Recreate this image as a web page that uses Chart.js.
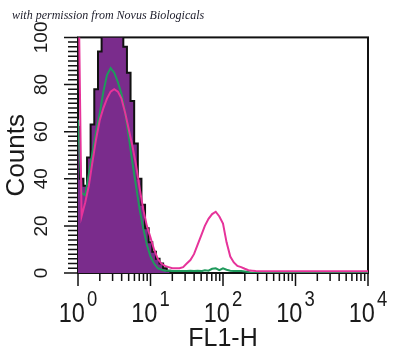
<!DOCTYPE html>
<html>
<head>
<meta charset="utf-8">
<script src="https://cdn.jsdelivr.net/npm/chart.js@4.4.1/dist/chart.umd.min.js"></script>
<style>
  html, body { margin: 0; padding: 0; background: #fff; }
</style>
</head>
<body>
<canvas id="histChart" width="400" height="356"></canvas>
<script>
const SANS = "'Liberation Sans', Arial, sans-serif";

const caption = "with permission from Novus Biologicals";

// FL1 channel positions (log scale) and the three overlaid histograms
const fl1 = [
  1.0, 1.12, 1.26, 1.41, 1.58, 1.78, 2.0, 2.24, 2.51, 2.82,
  3.16, 3.55, 3.98, 4.47, 5.01, 5.62, 6.31, 7.08, 7.94, 8.91,
  10, 11.2, 12.6, 14.1, 15.8, 17.8, 20, 22.4, 25.1, 28.2,
  31.6, 35.5, 39.8, 44.7, 50.1, 56.2, 63.1, 70.8, 79.4, 89.1,
  100, 112, 126, 141, 158, 178, 200, 224, 251, 282,
  316, 398, 631, 1000, 1585, 2512, 3981, 6310, 10000,
];
const purpleCounts = [
  62, 40, 37, 49, 63, 78, 94, 104, 110, 112,
  112, 110, 106, 96, 85, 73, 55, 40, 29, 19,
  13, 9, 6, 4, 2, 1, 0, 0, 0, 0,
  0, 0, 0, 0, 0, 0, 0, 0, 0, 0,
  0, 0, 0, 0, 0, 0, 0, 0, 0, 0,
  0, 0, 0, 0, 0, 0, 0, 0, 0,
];
const greenCounts = [
  65, 34, 33, 42, 51, 60, 68, 77, 84, 87,
  85, 81, 76, 68, 58, 47, 37, 27, 19, 12,
  7, 4, 2, 1.5, 1, 1, 0.8, 0.8, 0.8, 0.8,
  0.8, 1, 0.8, 1, 0.8, 1.2, 1, 1.8, 2, 1.2,
  2, 1.4, 1, 0.8, 0.8, 0.8, 0.6, 0.4, 0, 0,
  0, 0, 0, 0, 0, 0, 0, 0, 0,
];
const pinkCounts = [
  140, 24, 30, 37, 47, 57, 65, 70, 74, 77,
  78, 77, 74, 68, 61, 54, 46, 36, 27, 20,
  15, 10, 6, 4, 3, 2.5, 2, 2, 2, 2.5,
  4, 5.5, 8, 12, 16, 20, 23, 25, 26, 24,
  21, 13, 7, 4.5, 3, 2.5, 1.8, 1.2, 1, 0.8,
  0.7, 0.7, 0.7, 0.7, 0.7, 0.7, 0.7, 0.7, 0.7,
];

const yTickValues = [0, 20, 40, 60, 80, 100];
const xTickValues = [1, 10, 100, 1000, 10000];
const xTickExponents = ["0", "1", "2", "3", "4"];

const toPoints = (counts) => fl1.map((x, i) => ({ x, y: counts[i] }));

// frame, outward tick marks and the 10^n labels
const axisDecor = {
  id: "axisDecor",
  beforeDatasetsDraw(chart) {
    const { ctx, chartArea: a } = chart;
    ctx.save();
    ctx.strokeStyle = "#111";
    ctx.lineWidth = 2;
    ctx.strokeRect(a.left, a.top, a.right - a.left, a.bottom - a.top);
    ctx.restore();
  },
  afterDraw(chart) {
    const { ctx, chartArea: a, scales } = chart;
    const x = scales.x;
    const y = scales.y;
    ctx.save();
    ctx.strokeStyle = "#111";
    ctx.lineWidth = 1.5;
    ctx.beginPath();
    for (let v = 0; v <= 100; v += 2) {
      const py = y.getPixelForValue(v);
      const len = yTickValues.includes(v) ? 14 : 10;
      ctx.moveTo(a.left - len, py);
      ctx.lineTo(a.left, py);
    }
    xTickValues.forEach((dec, i) => {
      const px = x.getPixelForValue(dec);
      ctx.moveTo(px, a.bottom);
      ctx.lineTo(px, a.bottom + 13);
      if (i < xTickValues.length - 1) {
        for (let m = 2; m <= 9; m++) {
          const mx = x.getPixelForValue(dec * m);
          ctx.moveTo(mx, a.bottom);
          ctx.lineTo(mx, a.bottom + 8);
        }
      }
    });
    ctx.stroke();

    // labels are condensed horizontally like the scanned original
    const squeeze = 0.84;
    ctx.fillStyle = "#1a1a1a";
    ctx.textAlign = "left";
    ctx.textBaseline = "alphabetic";
    xTickValues.forEach((dec, i) => {
      const px = x.getPixelForValue(dec);
      ctx.font = "28px " + SANS;
      const wBase = ctx.measureText("10").width * squeeze;
      ctx.font = "22px " + SANS;
      const wExp = ctx.measureText(xTickExponents[i]).width * squeeze;
      const start = px - (wBase + wExp + 2) / 2;
      ctx.save();
      ctx.translate(start, 0);
      ctx.scale(squeeze, 1);
      ctx.font = "28px " + SANS;
      ctx.fillText("10", 0, 322);
      ctx.font = "22px " + SANS;
      ctx.fillText(xTickExponents[i], (wBase + 2) / squeeze, 306);
      ctx.restore();
    });
    ctx.restore();
  },
};

new Chart(document.getElementById("histChart").getContext("2d"), {
  type: "line",
  data: {
    datasets: [
      {
        label: "pink",
        data: toPoints(pinkCounts),
        borderColor: "#e6339a",
        borderWidth: 2,
        fill: false,
        pointRadius: 0,
      },
      {
        label: "green",
        data: toPoints(greenCounts),
        borderColor: "#1f9a5c",
        borderWidth: 2,
        fill: false,
        pointRadius: 0,
      },
      {
        label: "purple",
        data: toPoints(purpleCounts),
        borderColor: "#111",
        backgroundColor: "#7a2c8c",
        borderWidth: 2,
        fill: "origin",
        stepped: "middle",
        pointRadius: 0,
      },
    ],
  },
  options: {
    responsive: false,
    animation: false,
    layout: { padding: { left: 12, right: 32, top: 0, bottom: 0 } },
    plugins: {
      legend: { display: false },
      tooltip: { enabled: false },
      title: {
        display: true,
        text: caption,
        align: "start",
        color: "#1c1c2a",
        font: { family: "'Liberation Serif', serif", size: 12, style: "italic", weight: "normal", lineHeight: 1.2 },
        padding: { top: 9, bottom: 14 },
      },
    },
    scales: {
      x: {
        type: "logarithmic",
        min: 1,
        max: 10000,
        grid: { display: false },
        border: { display: false },
        ticks: { display: false },
        title: {
          display: true,
          text: "FL1-H",
          color: "#1a1a1a",
          font: { family: SANS, size: 25, lineHeight: 1 },
          padding: { top: 0, bottom: 4 },
        },
        afterFit: (s) => { s.height = 83; },
      },
      y: {
        min: 0,
        max: 100,
        grid: { display: false, drawTicks: true, tickLength: 14 },
        border: { display: false },
        ticks: {
          stepSize: 20,
          minRotation: 90,
          maxRotation: 90,
          crossAlign: "center",
          padding: 6,
          color: "#1a1a1a",
          font: { family: SANS, size: 19 },
          callback: (v) => (yTickValues.includes(v) ? String(v) : ""),
        },
        title: {
          display: true,
          text: "Counts",
          color: "#1a1a1a",
          font: { family: SANS, size: 26, lineHeight: 1 },
          padding: { top: -8, bottom: 0 },
        },
        afterFit: (s) => { s.width = 66; },
      },
    },
  },
  plugins: [axisDecor],
});
</script>
</body>
</html>
